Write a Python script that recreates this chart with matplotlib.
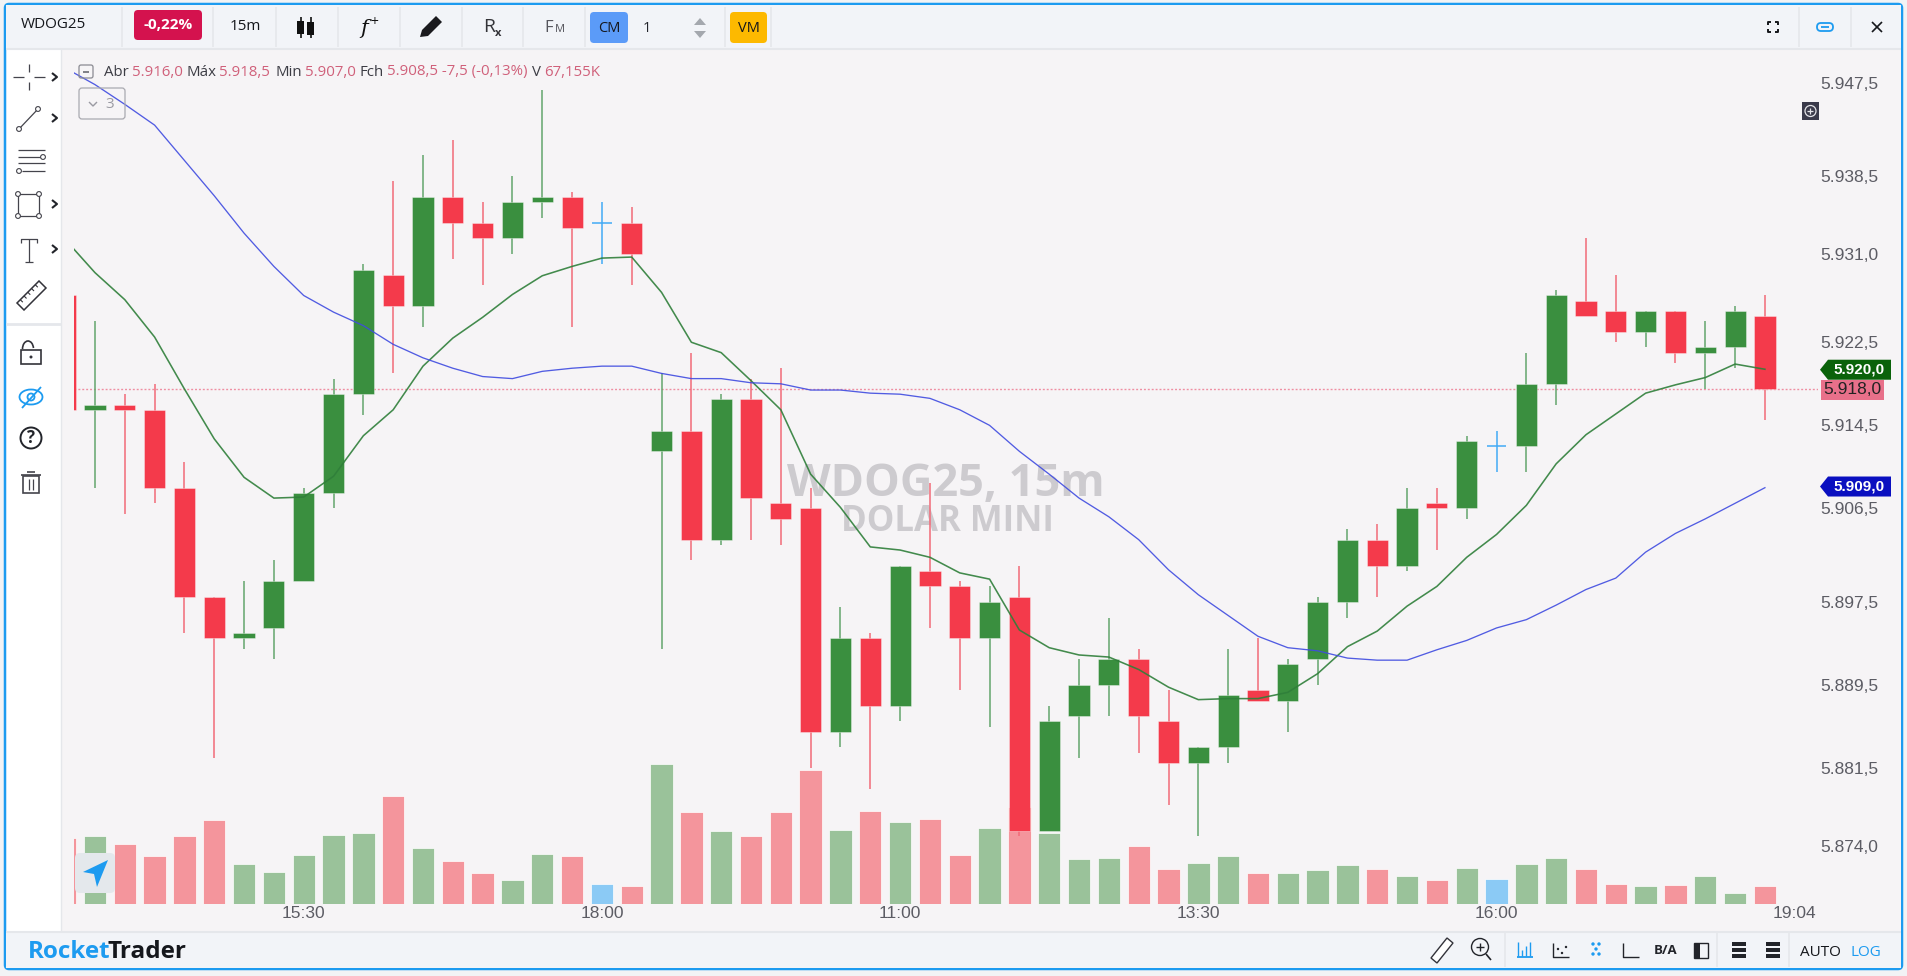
import numpy as np
import matplotlib
matplotlib.use('Agg')
import matplotlib.pyplot as plt
from matplotlib.patches import FancyBboxPatch, Rectangle, Polygon, Circle, Arc

plt.rcParams['font.family'] = ['Open Sans', 'DejaVu Sans']

W, H = 1908, 976

# first entry is the candle cut off by the left edge
opens = [5927, 5916, 5916.5, 5916, 5908.5, 5898, 5894, 5895, 5899.5, 5908, 5917.5, 5929, 5926, 5936.5, 5934, 5932.5,
         5936, 5936.5, 5934, 5934, 5912, 5914, 5903.5, 5917, 5907, 5906.5, 5885, 5894, 5887.5, 5900.5, 5899,
         5894, 5898, 5875.5, 5886.5, 5889.5, 5892, 5886, 5882, 5883.5, 5889, 5888, 5892, 5897.5, 5903.5,
         5901, 5907, 5906.5, 5912.5, 5912.5, 5918.5, 5926.5, 5925.5, 5923.5, 5925.5, 5921.5, 5922, 5925]
closes = [5916, 5916.5, 5916, 5908.5, 5898, 5894, 5894.5, 5899.5, 5908, 5917.5, 5929.5, 5926, 5936.5, 5934, 5932.5, 5936,
          5936.5, 5933.5, 5934, 5931, 5914, 5903.5, 5917, 5907.5, 5905.5, 5885, 5894, 5887.5, 5901, 5899, 5894,
          5897.5, 5875.5, 5886, 5889.5, 5892, 5886.5, 5882, 5883.5, 5888.5, 5888, 5891.5, 5897.5, 5903.5, 5901,
          5906.5, 5906.5, 5913, 5912.5, 5918.5, 5927, 5925, 5923.5, 5925.5, 5921.5, 5922, 5925.5, 5918]
highs = [5927, 5924.5, 5917.5, 5918.5, 5911, 5898, 5899.5, 5901.5, 5908.5, 5919, 5930, 5938, 5940.5, 5942, 5936, 5938.5,
         5946.8, 5937, 5936, 5935.5, 5919.5, 5921.5, 5917.5, 5919, 5920, 5908.5, 5897, 5894.5, 5901, 5909, 5899.5,
         5899, 5901, 5887.5, 5892, 5896, 5893, 5889, 5883.5, 5893, 5894, 5892, 5898, 5904.5, 5905,
         5908.5, 5908.5, 5913.5, 5914, 5921.5, 5927.5, 5932.5, 5929, 5925.5, 5925.5, 5924.5, 5926, 5927]
lows = [5916, 5908.5, 5906, 5907, 5894.5, 5882.5, 5893, 5892, 5899.5, 5906.5, 5915.5, 5919.5, 5924, 5930.5, 5928, 5931,
        5934.5, 5924, 5930, 5928, 5893, 5901.5, 5903, 5903.5, 5903, 5881.5, 5883.5, 5879.5, 5886, 5895, 5889,
        5885.5, 5875, 5875.5, 5882.5, 5886.5, 5883, 5878, 5875, 5882, 5888, 5885, 5889.5, 5896, 5898,
        5900.5, 5902.5, 5905.5, 5910, 5910, 5916.5, 5925, 5922.5, 5922, 5920.5, 5918, 5920, 5915]
volumes = [252, 257, 228, 181, 257, 319, 153, 123, 186, 262, 271, 409, 214, 162, 119, 91,
           191, 181, 77, 67, 533, 348, 276, 257, 348, 509, 281, 352, 310, 324, 186,
           290, 367, 271, 172, 176, 219, 134, 157, 181, 119, 119, 129, 148, 134,
           105, 91, 138, 96, 153, 176, 134, 77, 67, 72, 105, 43, 67]
ma_fast = [5932.4, 5929.2, 5926.6, 5923, 5918, 5913.2, 5909.5, 5907.5, 5907.6, 5909.6, 5913.5, 5916, 5920.2, 5922.9, 5924.9, 5927.1,
           5928.9, 5929.8, 5930.6, 5930.7, 5927.3, 5922.5, 5921.5, 5918.8, 5916, 5909.8, 5906.6, 5902.8, 5902.5, 5901.8, 5900.3,
           5899.7, 5894.8, 5893.1, 5892.4, 5892.2, 5891, 5889.3, 5888.1, 5888.2, 5888.2, 5888.8, 5890.6, 5893.2, 5894.7,
           5897.1, 5899, 5901.8, 5904, 5906.8, 5910.8, 5913.6, 5915.6, 5917.6, 5918.4, 5919.1, 5920.4, 5919.9]
ma_slow = [5948.9, 5947.3, 5945.4, 5943.4, 5940, 5936.6, 5933, 5929.8, 5927, 5925.4, 5924.1, 5922.3, 5921, 5920, 5919.2, 5919,
           5919.7, 5920, 5920.2, 5920.2, 5919.5, 5919, 5919, 5918.6, 5918.5, 5917.9, 5917.9, 5917.6, 5917.5, 5917.1, 5916,
           5914.5, 5912, 5909.8, 5907.5, 5905.7, 5903.5, 5900.6, 5898.2, 5896.2, 5894.2, 5893.1, 5892.8, 5892.1, 5891.9,
           5891.9, 5892.9, 5893.8, 5895, 5895.8, 5897.2, 5898.7, 5899.8, 5902.3, 5904.1, 5905.5, 5907, 5908.5]
price_ticks = [5947.5, 5938.5, 5931, 5922.5, 5914.5, 5906.5, 5897.5, 5889.5, 5881.5, 5874]
time_ticks = [7, 17, 27, 37, 47, 57]
time_labels = ['15:30', '18:00', '11:00', '13:30', '16:00', '19:04']
last_close = 5918
tag_fast = 5920
tag_slow = 5909

GREEN, RED, BLUE = '#3a8f3f', '#f43a4b', '#42aaf5'
GREEN_V, RED_V, BLUE_V = '#9ac29a', '#f4959c', '#8bcaf5'
GREEN_W, RED_W = '#63a56c', '#f26a78'
CHART_BG = '#f6f4f6'
BAR_BG = '#f2f4f8'
LINE = '#e5e7eb'
ACCENT = '#1d9bf0'
INK = '#22242a'
AX_TEXT = '#5c5c64'


def rect_of(left, top, right, bottom):
    return [left / W, 1 - bottom / H, (right - left) / W, (bottom - top) / H]


def chrome_axes(zorder):
    a = fig.add_axes([0, 0, 1, 1], zorder=zorder)
    a.set_xlim(0, W)
    a.set_ylim(H, 0)
    a.axis('off')
    a.patch.set_alpha(0)
    return a


def pill(a, x0, y0, x1, y1, color, r=3, **kw):
    a.add_patch(FancyBboxPatch((x0 + r, y0 + r), x1 - x0 - 2 * r, y1 - y0 - 2 * r,
                               boxstyle=f'round,pad={r},rounding_size={r}', fc=color, ec=kw.get('ec', 'none'),
                               lw=kw.get('lw', 0)))


def seg(a, xs, ys, color=INK, lw=1.0, **kw):
    a.plot(xs, ys, color=color, lw=lw, solid_capstyle=kw.pop('cap', 'butt'), **kw)


def br_price(value):
    return f'{value:,.1f}'.replace(',', 'X').replace('.', ',').replace('X', '.')


fig = plt.figure(figsize=(W / 100, H / 100), dpi=100, facecolor='#f2f3f5')

back = chrome_axes(0)
front = chrome_axes(5)

# frame and panels
pill(back, 5, 4, 1902, 969, '#ffffff', r=4, ec=ACCENT, lw=1.8)
back.add_patch(Rectangle((6, 5), 1895, 43, fc=BAR_BG, ec='none'))
back.add_patch(Rectangle((6, 932), 1895, 36, fc=BAR_BG, ec='none'))
back.add_patch(Rectangle((61, 49), 1840, 883, fc=CHART_BG, ec='none'))
seg(back, [6, 1901], [48.5, 48.5], LINE, 1.5)
seg(back, [6, 1901], [932, 932], LINE, 1.5)
seg(back, [61, 61], [49, 932], LINE, 1)
seg(back, [6, 61], [324, 324], LINE, 2)
for sx in [122, 213, 276, 338, 400, 462, 523, 585, 725, 771, 1799, 1851]:
    seg(back, [sx, sx], [7, 47], LINE, 1.2)
for sx in [1505, 1717, 1789]:
    seg(back, [sx, sx], [933, 967], LINE, 1.2)

# watermark sits under the candles
back.text(946, 485, 'WDOG25, 15m', fontsize=32.5, fontweight='bold', color='#cdcbcf', ha='center', va='center')
back.text(947, 522, 'DOLAR MINI', fontsize=25, fontweight='bold', color='#cdcbcf', ha='center', va='center')

# chart
plot_rect = rect_of(74, 50, 1818, 904)
x = np.arange(-1, len(opens) - 1)
opens_a, closes_a = np.array(opens), np.array(closes)

vol_ax = fig.add_axes(plot_rect, zorder=1)
vol_ax.patch.set_alpha(0)
vol_ax.axis('off')
ax = fig.add_axes(plot_rect, zorder=2)
ax.patch.set_alpha(0)

colors = [BLUE if c == o else (RED if c < o else GREEN) for o, c in zip(opens, closes)]
vol_colors = [{GREEN: GREEN_V, RED: RED_V, BLUE: BLUE_V}[c] for c in colors]
wick_colors = [{GREEN: GREEN_W, RED: RED_W, BLUE: BLUE}[c] for c in colors]

vol_ax.bar(x, volumes, width=0.75, color=vol_colors, edgecolor='#ffffff', linewidth=0.5)
vol_ax.set_xlim(-0.703, 57.78)
vol_ax.set_ylim(0, 3245)

ax.vlines(x, lows, highs, colors=wick_colors, linewidth=1.1, zorder=2)
solid = opens_a != closes_a
ax.bar(x[solid], np.abs(closes_a - opens_a)[solid], bottom=np.minimum(opens_a, closes_a)[solid], width=0.71,
       color=[c for c, s in zip(colors, solid) if s], edgecolor='#ffffff80', linewidth=0.5, zorder=3)
ax.hlines(opens_a[~solid], x[~solid] - 0.33, x[~solid] + 0.33, colors=BLUE, linewidth=1.1, zorder=3)
ax.plot(x, ma_fast, color='#2f7f3a', lw=1.15, alpha=0.9, zorder=4)
ax.plot(x, ma_slow, color='#3f4be0', lw=0.95, alpha=0.9, zorder=4)
ax.axhline(last_close, color='#ef8ea2', lw=1, ls=(0, (1.4, 1.4)), zorder=1)

ax.set_xlim(-0.703, 57.78)
ax.set_ylim(5868.43, 5950.63)
ax.yaxis.tick_right()
ax.set_yticks(price_ticks)
ax.set_yticklabels([br_price(p) for p in price_ticks], family='Liberation Sans', fontsize=12.5, color=AX_TEXT)
ax.set_xticks(time_ticks)
ax.set_xticklabels(time_labels, family='Liberation Sans', fontsize=12.5, color=AX_TEXT)
ax.tick_params(length=0, pad=1.5)
for sp in ax.spines.values():
    sp.set_visible(False)


def py(price):
    return 389.0 - (price - 5918) * 10.39


def price_tag(price, color, y_shift=0):
    yc = py(price) + y_shift
    front.add_patch(Polygon([(1820, yc), (1828, yc - 10), (1891, yc - 10), (1891, yc + 10), (1828, yc + 10)],
                            fc=color, ec='none'))
    front.text(1859, yc - 0.5, br_price(price), family='Liberation Sans', fontsize=11, fontweight='bold',
               color='white', ha='center', va='center')


price_tag(tag_fast, '#0a620a', 1.5)
price_tag(tag_slow, '#0a0fc0', 4)
front.add_patch(Rectangle((1821, 380), 63, 20, fc='#e8708a', ec='none'))
front.text(1852.5, 390, br_price(last_close), family='Liberation Sans', fontsize=12.5, color='#222222',
           ha='center', va='center')

# legend line
head = [(104, 'Abr', '#3c3c44'), (132, '5.916,0', '#d0607a'), (187, 'Máx', '#3c3c44'), (219.5, '5.918,5', '#d0607a'),
        (275.5, 'Min', '#3c3c44'), (305.5, '5.907,0', '#d0607a'), (360, 'Fch', '#3c3c44'),
        (387.5, '5.908,5 -7,5 (-0,13%)', '#d0607a'), (532, 'V', '#3c3c44'), (544.5, '67,155K', '#d0607a')]
for hx, label, col in head:
    front.text(hx, 72, label, fontsize=10.8, color=col, va='center', ha='left')
pill(front, 79, 65, 93, 78, 'none', r=2, ec='#8a8a92', lw=0.9)
seg(front, [83, 89], [71.5, 71.5], '#6a6a72', 1.2)
pill(front, 79, 88, 125, 119, 'none', r=3, ec='#a9a9b0', lw=0.9)
seg(front, [89, 93, 97], [102, 106, 102], '#9a9aa2', 1)
front.text(110, 104, '3', fontsize=11, color='#9a9aa2', ha='center', va='center')

# top bar
front.text(21, 24, 'WDOG25', fontsize=11, color='#15171c', va='center')
pill(front, 134, 10, 202, 40, '#d4124e', r=4)
front.text(168, 25, '-0,22%', fontsize=11, fontweight='bold', color='white', ha='center', va='center')
front.text(245, 27, '15m', fontsize=11, color='#15171c', ha='center', va='center')
for cx, col in [(301, '#111111'), (311, '#111111')]:
    seg(front, [cx, cx], [17, 38], col, 1.2)
    front.add_patch(Rectangle((cx - 3.5, 21 + (cx == 311) * 1), 7, 13, fc=col, ec='none'))
front.text(364, 28, 'f', fontsize=15, style='italic', family='DejaVu Serif', color='#111111', ha='center', va='center')
front.text(374, 23, '+', fontsize=10, color='#111111', ha='center', va='center')
front.add_patch(Polygon([(420, 37), (422, 30), (436, 16), (442, 22), (428, 36)], fc='#1a1a1e', ec='none'))
front.text(489, 27, 'R', fontsize=14, color='#333338', ha='center', va='center')
front.text(498, 33, 'x', fontsize=8, fontweight='bold', color='#333338', ha='center', va='center')
front.text(549, 28, 'F', fontsize=12, color='#55555c', ha='center', va='center')
front.text(560, 30, 'M', fontsize=8, color='#55555c', ha='center', va='center')
pill(front, 590, 12, 628, 43, '#5b9bf8', r=4)
front.text(609, 28, 'CM', fontsize=10.5, color='#15171c', ha='center', va='center')
front.text(647, 28, '1', fontsize=10.5, color='#22242a', ha='center', va='center')
front.add_patch(Polygon([(694, 25), (700, 18), (706, 25)], fc='#a4a8ae', ec='none'))
front.add_patch(Polygon([(694, 31), (700, 38), (706, 31)], fc='#a4a8ae', ec='none'))
pill(front, 730, 12, 767, 43, '#fdb900', r=4)
front.text(748.5, 28, 'VM', fontsize=10.5, color='#15171c', ha='center', va='center')
for sx, sy in [(1768, 22), (1778, 22), (1768, 32), (1778, 32)]:
    dx = 3 if sx == 1768 else -3
    dy = 3 if sy == 22 else -3
    seg(front, [sx + dx, sx, sx], [sy, sy, sy + dy], '#15171c', 1.4)
pill(front, 1817, 23, 1833, 31, 'none', r=3.9, ec=ACCENT, lw=1.3)
seg(front, [1821, 1829], [27, 27], ACCENT, 1.3)
seg(front, [1872, 1882], [22, 32], '#15171c', 1.2)
seg(front, [1872, 1882], [32, 22], '#15171c', 1.2)

# left tools
for xs, ys in [([13, 24], [77, 77]), ([34, 45], [77, 77]), ([29, 29], [64, 72]), ([29, 29], [82, 90])]:
    seg(front, xs, ys, '#44444c', 0.9)
for cy in [77, 118, 204, 249]:
    seg(front, [52, 57, 52], [cy - 4, cy, cy + 4], '#22242a', 1.5)
seg(front, [19, 38], [129, 109], '#44444c', 0.9)
for cx, cy in [(19, 129), (38, 109)]:
    front.add_patch(Circle((cx, cy), 2.4, fc='white', ec='#44444c', lw=0.8, zorder=4))
for ly, x0, x1 in [(150, 18, 45), (157, 18, 41), (163, 18, 45), (171, 22, 45)]:
    seg(front, [x0, x1], [ly, ly], '#44444c', 0.9)
front.add_patch(Circle((43, 157), 2.4, fc='white', ec='#44444c', lw=0.8, zorder=4))
front.add_patch(Circle((19, 171), 2.4, fc='white', ec='#44444c', lw=0.8, zorder=4))
front.add_patch(Rectangle((18, 194), 21, 22, fc='none', ec='#44444c', lw=0.9))
for cx, cy in [(18, 194), (39, 194), (18, 216), (39, 216)]:
    front.add_patch(Circle((cx, cy), 2.4, fc='white', ec='#44444c', lw=0.8, zorder=4))
seg(front, [29, 29], [239, 262], '#44444c', 0.9)
seg(front, [21, 21, 37, 37], [243, 239, 239, 243], '#44444c', 0.9)
seg(front, [25, 33], [262, 262], '#44444c', 0.9)
front.add_patch(Polygon([(17, 303), (39, 281), (46, 288), (24, 310)], fc='white', ec='#33333a', lw=1.1))
for t in np.arange(0.15, 0.95, 0.17):
    seg(front, [17 + 22 * t, 19.5 + 22 * t], [303 - 22 * t, 305.5 - 22 * t], '#33333a', 0.8)
# lock, eye, help, trash
front.add_patch(Rectangle((21, 350), 20, 14, fc='none', ec='#33333a', lw=1.2))
front.add_patch(Arc((28, 349), 11, 16, theta1=180, theta2=350, ec='#33333a', lw=1.2))
front.add_patch(Circle((31, 357), 1.5, fc='#33333a', ec='none'))
front.add_patch(Arc((31, 397), 23, 15, fc='none', ec=ACCENT, lw=1.3))
front.add_patch(Circle((31, 397), 3.5, fc='none', ec=ACCENT, lw=1.3))
seg(front, [22, 41], [408, 387], ACCENT, 1.3)
front.add_patch(Circle((31, 438), 10.5, fc='none', ec='#22242a', lw=1.4))
front.text(31, 438, '?', fontsize=12, fontweight='bold', color='#22242a', ha='center', va='center')
front.add_patch(Rectangle((23, 476), 16, 17, fc='none', ec='#44444c', lw=1.2))
seg(front, [21, 41], [475, 475], '#44444c', 1.2)
seg(front, [27, 35], [472, 472], '#44444c', 1.2)
for tx in [29, 33]:
    seg(front, [tx, tx], [479, 490], '#44444c', 0.9)

# side buttons
front.add_patch(Rectangle((1802, 102), 17, 18, fc='#3a3a4a', ec='none'))
front.add_patch(Circle((1810.5, 111), 5.5, fc='none', ec='#e4e4e8', lw=0.9))
seg(front, [1807.5, 1813.5], [111, 111], '#e4e4e8', 0.9)
seg(front, [1810.5, 1810.5], [108, 114], '#e4e4e8', 0.9)
pill(front, 75, 853, 115, 893, '#e4e8ec', r=5)
front.add_patch(Polygon([(83, 872), (108, 860), (97, 887), (94, 874)], fc=ACCENT, ec='none'))

# bottom bar
front.text(28, 952, 'Rocket', fontsize=17.5, fontweight='bold', color=ACCENT, va='center', ha='left')
front.text(108, 952, 'Trader', fontsize=17.5, fontweight='bold', color='#15171c', va='center', ha='left')
front.add_patch(Polygon([(1431, 958), (1447, 938), (1453, 943), (1437, 963)], fc='white', ec='#33333a', lw=1))
front.add_patch(Circle((1480, 947), 8.5, fc='none', ec='#22242a', lw=1))
seg(front, [1476, 1484], [947, 947], '#22242a', 1)
seg(front, [1480, 1480], [943, 951], '#22242a', 1)
seg(front, [1486, 1491], [954, 960], '#22242a', 1.2)
seg(front, [1517, 1533], [957, 957], ACCENT, 1.3)
for bx, by in [(1518, 942), (1522, 950), (1526, 946), (1530, 942)]:
    seg(front, [bx, bx], [by, 956], ACCENT, 1)
seg(front, [1553, 1553, 1569], [943, 957, 957], '#22242a', 1)
for dx, dy in [(1558, 949), (1562, 953), (1566, 947)]:
    front.add_patch(Circle((dx, dy), 1.2, fc='#22242a', ec='none'))
for dx, dy in [(1593, 944), (1599, 944), (1596, 949), (1593, 954), (1599, 954)]:
    front.add_patch(Circle((dx, dy), 1.7, fc=ACCENT, ec='none'))
seg(front, [1623, 1623, 1639], [943, 957, 957], '#22242a', 1)
front.text(1666, 951, 'B/A', fontsize=9.5, fontweight='bold', color='#22242a', ha='center', va='center')
front.add_patch(Rectangle((1694, 943), 14, 15, fc='none', ec='#22242a', lw=1))
front.add_patch(Rectangle((1695, 943), 5, 15, fc='#22242a', ec='none'))
for bar_x in [1739, 1773]:
    for by in [942, 948, 954]:
        front.add_patch(Rectangle((bar_x - 7, by), 14, 4, fc='#22242a', ec='none'))
front.text(1820, 952, 'AUTO', fontsize=11, color='#15171c', ha='center', va='center')
front.text(1866, 952, 'LOG', fontsize=11, color=ACCENT, ha='center', va='center')

fig.savefig('out.png', dpi=100, facecolor=fig.get_facecolor())
